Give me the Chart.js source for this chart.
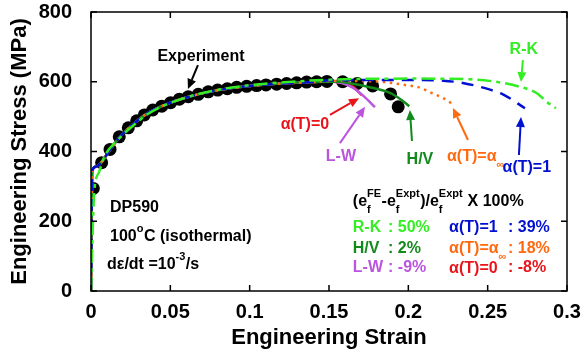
<!DOCTYPE html>
<html>
<head>
<meta charset="utf-8">
<script src="https://cdn.jsdelivr.net/npm/chart.js@4.4.1/dist/chart.umd.min.js"></script>
<style>
  body { margin: 0; background: #fff; }
  #wrap { width: 584px; height: 355px; }
</style>
</head>
<body>
<div id="wrap"><canvas id="chart" width="584" height="355"></canvas></div>
<script>
// ===== data (strain, MPa) =====
const expStrain = [0.00145,0.0067,0.012,0.0178,0.0235,0.0288,0.0336,0.0389,0.0446,0.0502,0.0557,0.0613,0.0676,0.0739,0.0798,0.0859,0.0918,0.0981,0.1044,0.1103,0.117,0.1233,0.1296,0.1359,0.1422,0.1487,0.1586,0.1678,0.1775,0.1888,0.1936];
const expStress = [294,368,406,442,468,488,505,519,530,540,550,557,564,571,576,580,584,587,589,591,593,595,597,599,600,601,600,595,588,565,528];

// shared hardening part of the FE curves
const baseStrain = [0,0.0008,0.003,0.006,0.012,0.018,0.025,0.035,0.045,0.06,0.08,0.1,0.12,0.14];
const baseStress = [0,345,356,366,405,441,472,508,531,555,576,588,595,599];

// softening tails of each model
const a0Strain = [0.15,0.158,0.165,0.1705];
const a0Stress = [601,597,586,562];
const lwStrain = [0.15,0.158,0.165,0.172,0.179];
const lwStress = [601,596,583,558,527];
const hvStrain = [0.155,0.165,0.175,0.1884,0.195,0.2006];
const hvStress = [600,594,585,568,550,530];
const ainfStrain = [0.15,0.17,0.185,0.199,0.2052,0.2157,0.222,0.2273];
const ainfStress = [602,602,599,590,586,566,553,538];
const a1Strain = [0.15,0.2,0.222,0.235,0.251,0.2596,0.2735];
const a1Stress = [604,605,603,596,578,564,524];
const rkStrain = [0,0.002,0.005,0.0084,0.0168,0.025,0.035,0.045,0.06,0.08,0.1,0.12,0.15,0.2,0.239,0.255,0.27,0.281,0.287,0.293];
const rkStress = [0,280,340,385,433,468,505,530,555,577,590,598,606,609,607,600,586,567,543,524];

const xTicks = [0,0.05,0.1,0.15,0.2,0.25,0.3];
const yTicks = [0,200,400,600,800];

const FONT = "'Liberation Sans', Arial, Helvetica, sans-serif";
const C = {
  rk: '#33ee22', hv: '#138a1c', lw: '#bb55dd',
  a1: '#0010d0', ainf: '#ff6a10', a0: '#e8141c'
};

function pts(xs, ys) { return xs.map((x, i) => ({ x: x, y: ys[i] })); }
function withBase(xs, ys) { return pts(baseStrain.concat(xs), baseStress.concat(ys)); }

function lineSet(label, data, color, dash) {
  return {
    label: label, data: data, borderColor: color, borderWidth: 2.5,
    borderDash: dash, pointRadius: 0, fill: false,
    cubicInterpolationMode: 'monotone'
  };
}

const datasets = [
  lineSet('R-K', pts(rkStrain, rkStress), C.rk, [14, 5, 4, 5]),
  lineSet('alpha1', withBase(a1Strain, a1Stress), C.a1, [12, 8]),
  lineSet('alphaInf', withBase(ainfStrain, ainfStress), C.ainf, [2.5, 4.5]),
  lineSet('H/V', withBase(hvStrain, hvStress), C.hv, []),
  lineSet('L-W', withBase(lwStrain, lwStress), C.lw, []),
  lineSet('alpha0', withBase(a0Strain, a0Stress), C.a0, []),
  {
    label: 'Experiment', data: pts(expStrain, expStress), showLine: false,
    pointRadius: 6.5, pointBackgroundColor: '#000', pointBorderColor: '#000',
    pointBorderWidth: 0
  }
];

// ===== helpers for text with sub/superscripts =====
function richText(ctx, x, y, tokens, color) {
  ctx.fillStyle = color;
  ctx.textBaseline = 'middle';
  ctx.textAlign = 'left';
  let cx = x;
  tokens.forEach(tk => {
    if (typeof tk === 'string') {
      ctx.font = 'bold 16px ' + FONT;
      ctx.fillText(tk, cx, y);
      cx += ctx.measureText(tk).width;
    } else {
      ctx.font = 'bold 11px ' + FONT;
      let w = 0;
      if (tk.sup) { ctx.fillText(tk.sup, cx, y - 8); w = Math.max(w, ctx.measureText(tk.sup).width); }
      if (tk.sub) { ctx.fillText(tk.sub, cx, y + 8); w = Math.max(w, ctx.measureText(tk.sub).width); }
      cx += w + 0.5;
    }
  });
}

function arrow(ctx, x1, y1, x2, y2, color) {
  const ang = Math.atan2(y2 - y1, x2 - x1);
  const hl = 10, hw = 4.5;
  const bx = x2 - hl * Math.cos(ang), by = y2 - hl * Math.sin(ang);
  ctx.strokeStyle = color; ctx.fillStyle = color; ctx.lineWidth = 2; ctx.setLineDash([]);
  ctx.beginPath(); ctx.moveTo(x1, y1); ctx.lineTo(bx, by); ctx.stroke();
  ctx.beginPath();
  ctx.moveTo(x2, y2);
  ctx.lineTo(bx + hw * Math.sin(ang), by - hw * Math.cos(ang));
  ctx.lineTo(bx - hw * Math.sin(ang), by + hw * Math.cos(ang));
  ctx.closePath(); ctx.fill();
}

// curve labels: text centre + arrow (tail -> head), all in data units
const notes = [
  { t: ['Experiment'], c: '#000', at: [0.0693, 671], from: [0.0674, 648], to: [0.0611, 579] },
  { t: ['\u03b1(T)=0'], c: C.a0, at: [0.1348, 476], from: [0.1506, 505], to: [0.1689, 553] },
  { t: ['L-W'], c: C.lw, at: [0.1575, 384], from: [0.1569, 424], to: [0.1727, 528] },
  { t: ['H/V'], c: C.hv, at: [0.2073, 376], from: [0.2023, 430], to: [0.2010, 519] },
  { t: ['\u03b1(T)=\u03b1', { sub: '\u221e' }], c: C.ainf, at: [0.2426, 384], from: [0.2376, 433], to: [0.2281, 525] },
  { t: ['\u03b1(T)=1'], c: C.a1, at: [0.2747, 353], from: [0.2697, 390], to: [0.2710, 499] },
  { t: ['R-K'], c: C.rk, at: [0.2728, 691], from: [0.2722, 662], to: [0.2710, 599] }
];

function tokensWidth(ctx, tokens) {
  let w = 0;
  tokens.forEach(tk => {
    if (typeof tk === 'string') { ctx.font = 'bold 16px ' + FONT; w += ctx.measureText(tk).width; }
    else { ctx.font = 'bold 11px ' + FONT; w += Math.max(tk.sup ? ctx.measureText(tk.sup).width : 0, tk.sub ? ctx.measureText(tk.sub).width : 0) + 0.5; }
  });
  return w;
}

const decor = {
  id: 'decor',
  afterDatasetsDraw(chart) {
    const ctx = chart.ctx, xs = chart.scales.x, ys = chart.scales.y, a = chart.chartArea;
    const px = v => xs.getPixelForValue(v), py = v => ys.getPixelForValue(v);
    ctx.save();

    // frame with inward ticks on all sides
    ctx.strokeStyle = '#000'; ctx.lineWidth = 1.5; ctx.setLineDash([]);
    ctx.strokeRect(a.left, a.top, a.right - a.left, a.bottom - a.top);
    ctx.beginPath();
    xTicks.forEach(v => {
      const x = px(v);
      ctx.moveTo(x, a.bottom); ctx.lineTo(x, a.bottom - 6);
      ctx.moveTo(x, a.top); ctx.lineTo(x, a.top + 6);
    });
    yTicks.forEach(v => {
      const y = py(v);
      ctx.moveTo(a.left, y); ctx.lineTo(a.left + 6, y);
      ctx.moveTo(a.right, y); ctx.lineTo(a.right - 6, y);
    });
    ctx.stroke();

    // curve labels
    notes.forEach(n => {
      const w = tokensWidth(ctx, n.t);
      richText(ctx, px(n.at[0]) - w / 2, py(n.at[1]), n.t, n.c);
      arrow(ctx, px(n.from[0]), py(n.from[1]), px(n.to[0]), py(n.to[1]), n.c);
    });

    // material / test conditions
    richText(ctx, px(0.012), py(238), ['DP590'], '#000');
    richText(ctx, px(0.012), py(155), ['100', { sup: 'o' }, 'C (isothermal)'], '#000');
    richText(ctx, px(0.0101), py(75), ['d\u03b5/dt =10', { sup: '-3' }, '/s'], '#000');

    // error table
    richText(ctx, px(0.165), py(256), ['(e', { sub: 'f', sup: 'FE' }, '-e', { sub: 'f', sup: 'Expt' }, ')/e', { sub: 'f', sup: 'Expt' }, ' X 100%'], '#000');
    const c1 = px(0.165), c1b = px(0.1872), c2 = px(0.2257), c2b = px(0.2628);
    richText(ctx, c1, py(181), ['R-K'], C.rk);   richText(ctx, c1b, py(181), [': 50%'], C.rk);
    richText(ctx, c1, py(121), ['H/V'], C.hv);   richText(ctx, c1b, py(121), [': 2%'], C.hv);
    richText(ctx, c1, py(68), ['L-W'], C.lw);    richText(ctx, c1b, py(68), [': -9%'], C.lw);
    richText(ctx, c2, py(181), ['\u03b1(T)=1'], C.a1);   richText(ctx, c2b, py(181), [': 39%'], C.a1);
    richText(ctx, c2, py(121), ['\u03b1(T)=\u03b1', { sub: '\u221e' }], C.ainf); richText(ctx, c2b, py(121), [': 18%'], C.ainf);
    richText(ctx, c2, py(64), ['\u03b1(T)=0'], C.a0);    richText(ctx, c2b, py(66), [': -8%'], C.a0);

    ctx.restore();
  }
};

new Chart(document.getElementById('chart'), {
  type: 'line',
  data: { datasets },
  options: {
    responsive: false,
    devicePixelRatio: 1,
    animation: false,
    layout: { padding: { top: 0, right: 17, left: 0, bottom: 0 } },
    plugins: { legend: { display: false }, tooltip: { enabled: false } },
    scales: {
      x: {
        type: 'linear', min: 0, max: 0.3,
        grid: { display: false }, border: { display: false },
        afterBuildTicks: s => { s.ticks = xTicks.map(v => ({ value: v })); },
        afterFit: s => { s.height = 64; },
        ticks: {
          color: '#000', padding: 1, maxRotation: 0,
          font: { family: FONT, size: 20, weight: 'bold' },
          callback: v => String(+v.toFixed(2))
        },
        title: {
          display: true, text: 'Engineering Strain', color: '#000',
          font: { family: FONT, size: 22, weight: 'bold' }, padding: { top: 0, bottom: 4 }
        }
      },
      y: {
        type: 'linear', min: 0, max: 800,
        grid: { display: false }, border: { display: false },
        afterBuildTicks: s => { s.ticks = yTicks.map(v => ({ value: v })); },
        afterFit: s => { s.width = 91; s.paddingTop = 12; s.paddingBottom = 0; },
        ticks: {
          color: '#000', padding: 11,
          font: { family: FONT, size: 20, weight: 'bold' }
        },
        title: {
          display: true, text: 'Engineering Stress (MPa)', color: '#000',
          font: { family: FONT, size: 22, weight: 'bold' }, padding: { top: 7, bottom: 0 }
        }
      }
    }
  },
  plugins: [decor]
});
</script>
</body>
</html>
